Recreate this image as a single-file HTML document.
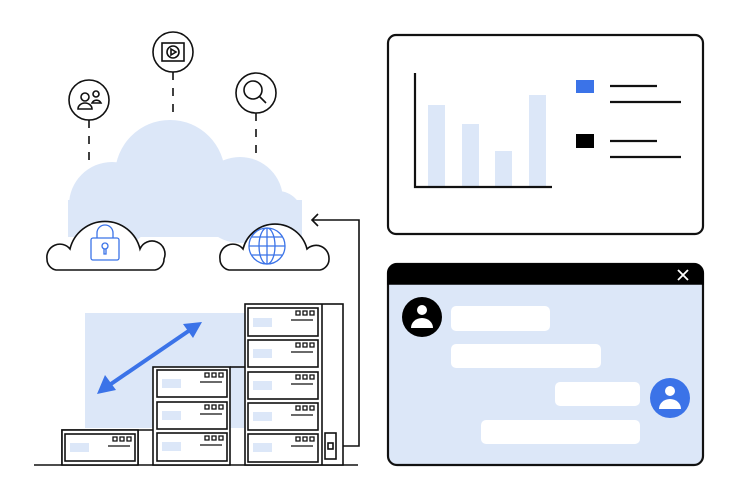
<!DOCTYPE html>
<html><head><style>body{margin:0;background:#fff}svg{display:block}</style></head><body>
<svg width="737" height="500" viewBox="0 0 737 500" xmlns="http://www.w3.org/2000/svg" fill="none" stroke="#111" stroke-width="1.6">
<g fill="#dce7f8" stroke="none">
<circle cx="170" cy="175" r="55"/><circle cx="112" cy="205" r="43"/><circle cx="240" cy="200" r="43"/><circle cx="278" cy="215" r="24"/>
<rect x="68" y="200" width="234" height="37"/>
</g>
<g stroke-dasharray="8,8"><line x1="89" y1="120" x2="89" y2="160"/><line x1="173" y1="72" x2="173" y2="113"/><line x1="256" y1="113" x2="256" y2="155"/></g>
<circle cx="89" cy="100" r="20"/><circle cx="173" cy="52" r="20"/><circle cx="256" cy="93" r="20"/>
<circle cx="85" cy="97" r="4"/><path d="M78 109a7 6 0 0 1 14 0z"/><circle cx="96" cy="94" r="3"/><path d="M92 103a5 5 0 0 1 9 0z"/>
<rect x="162" y="43" width="22" height="18"/><circle cx="173" cy="52" r="6"/><path d="M171 49l5 3-5 3z"/>
<circle cx="253" cy="90" r="9"/><line x1="259" y1="96" x2="266" y2="103"/>
<path d="M56 270a11 11 0 0 1-9-11a13 13 0 0 1 23-10a36 36 0 0 1 70 0a13 13 0 0 1 24 10a11 11 0 0 1-9 11z" fill="#fff"/>
<path d="M229 270a11 11 0 0 1-9-11a13 13 0 0 1 23-10a33 33 0 0 1 64 0a13 13 0 0 1 22 10a11 11 0 0 1-9 11z" fill="#fff"/>
<g stroke="#3b73e8" stroke-width="1.3"><rect x="91" y="238" width="28" height="22" rx="2"/><path d="M97 238v-5a8 8 0 0 1 16 0v5"/><circle cx="105" cy="246" r="3"/><path d="M104 249v5h2v-5"/>
<circle cx="267" cy="246" r="18"/><ellipse cx="267" cy="246" rx="8" ry="18"/><line x1="267" y1="228" x2="267" y2="264"/><line x1="249" y1="246" x2="285" y2="246"/><line x1="252" y1="237" x2="282" y2="237"/><line x1="252" y1="255" x2="282" y2="255"/></g>
<path d="M312 220H359V446H333"/><path d="M318 214l-6 6 6 6"/>
<rect x="85" y="313" width="160" height="115" fill="#dce7f8" stroke="none"/>
<g stroke="#3b73e8" stroke-width="4"><line x1="108" y1="386" x2="190" y2="330"/></g>
<path d="M97 394l8-19 11 15z M202 322l-19 2 10 14z" fill="#3b73e8" stroke="none"/>
<line x1="34" y1="465" x2="358" y2="465"/>
<path d="M62 465V430H153 M138 430V465" fill="#fff"/>
<rect x="62" y="430" width="76" height="35" fill="#fff"/>
<rect x="153" y="367" width="77" height="98" fill="#fff"/>
<path d="M230 367H245"/>
<rect x="245" y="304" width="98" height="161" fill="#fff"/>
<line x1="322" y1="304" x2="322" y2="465"/>
<rect x="325" y="433" width="11" height="26"/><rect x="328" y="443" width="5" height="6"/>
<g>
<rect x="65" y="434" width="70" height="27"/>
<rect x="157" y="370" width="70" height="27"/><rect x="157" y="402" width="70" height="27"/><rect x="157" y="433" width="70" height="28"/>
<rect x="248" y="308" width="70" height="28"/><rect x="248" y="340" width="70" height="27"/><rect x="248" y="372" width="70" height="27"/><rect x="248" y="403" width="70" height="27"/><rect x="248" y="434" width="70" height="28"/>
</g>
<g fill="#dce7f8" stroke="none">
<rect x="70" y="443" width="19" height="9"/>
<rect x="162" y="379" width="19" height="9"/><rect x="162" y="411" width="19" height="9"/><rect x="162" y="442" width="19" height="9"/>
<rect x="253" y="318" width="19" height="9"/><rect x="253" y="349" width="19" height="9"/><rect x="253" y="381" width="19" height="9"/><rect x="253" y="412" width="19" height="9"/><rect x="253" y="443" width="19" height="9"/>
</g>
<g stroke-width="1.3">
<path d="M108 446H130M113 437h4v4h-4zM120 437h4v4h-4zM127 437h4v4h-4z"/>
<path d="M200 382H222M205 373h4v4h-4zM212 373h4v4h-4zM219 373h4v4h-4z"/>
<path d="M200 414H222M205 405h4v4h-4zM212 405h4v4h-4zM219 405h4v4h-4z"/>
<path d="M200 445H222M205 436h4v4h-4zM212 436h4v4h-4zM219 436h4v4h-4z"/>
<path d="M291 320H313M296 311h4v4h-4zM303 311h4v4h-4zM310 311h4v4h-4z"/>
<path d="M291 352H313M296 343h4v4h-4zM303 343h4v4h-4zM310 343h4v4h-4z"/>
<path d="M291 384H313M296 375h4v4h-4zM303 375h4v4h-4zM310 375h4v4h-4z"/>
<path d="M291 415H313M296 406h4v4h-4zM303 406h4v4h-4zM310 406h4v4h-4z"/>
<path d="M291 446H313M296 437h4v4h-4zM303 437h4v4h-4zM310 437h4v4h-4z"/>
</g>
<rect x="388" y="35" width="315" height="199" rx="8" stroke-width="2.2"/>
<g fill="#dce7f8" stroke="none"><rect x="428" y="105" width="17" height="81"/><rect x="462" y="124" width="17" height="62"/><rect x="495" y="151" width="17" height="35"/><rect x="529" y="95" width="17" height="91"/></g>
<path d="M415 73V187H552" stroke-width="2.2"/>
<rect x="576" y="80" width="18" height="13" fill="#3b73e8" stroke="none"/>
<rect x="576" y="134" width="18" height="14" fill="#000" stroke="none"/>
<path d="M610 86H657M610 102H681M610 141H657M610 157H681" stroke-width="2.2"/>
<rect x="388" y="264" width="315" height="201" rx="9" fill="#dce7f8" stroke-width="2.2"/>
<path d="M388 284V273a9 9 0 0 1 9-9H694a9 9 0 0 1 9 9V284z" fill="#000" stroke="#000"/>
<path d="M678 270l10 10M688 270l-10 10" stroke="#fff" stroke-width="1.8"/>
<g fill="#fff" stroke="none">
<rect x="451" y="306" width="99" height="25" rx="5"/><rect x="451" y="344" width="150" height="24" rx="5"/>
<rect x="555" y="382" width="85" height="24" rx="5"/><rect x="481" y="420" width="159" height="24" rx="5"/>
</g>
<circle cx="422" cy="317" r="20" fill="#000" stroke="none"/>
<circle cx="422" cy="310" r="5" fill="#fff" stroke="none"/><path d="M411 328a11 10 0 0 1 22 0z" fill="#fff" stroke="none"/>
<circle cx="670" cy="398" r="20" fill="#3b73e8" stroke="none"/>
<circle cx="670" cy="391" r="5" fill="#fff" stroke="none"/><path d="M659 409a11 10 0 0 1 22 0z" fill="#fff" stroke="none"/>
</svg>
</body></html>
